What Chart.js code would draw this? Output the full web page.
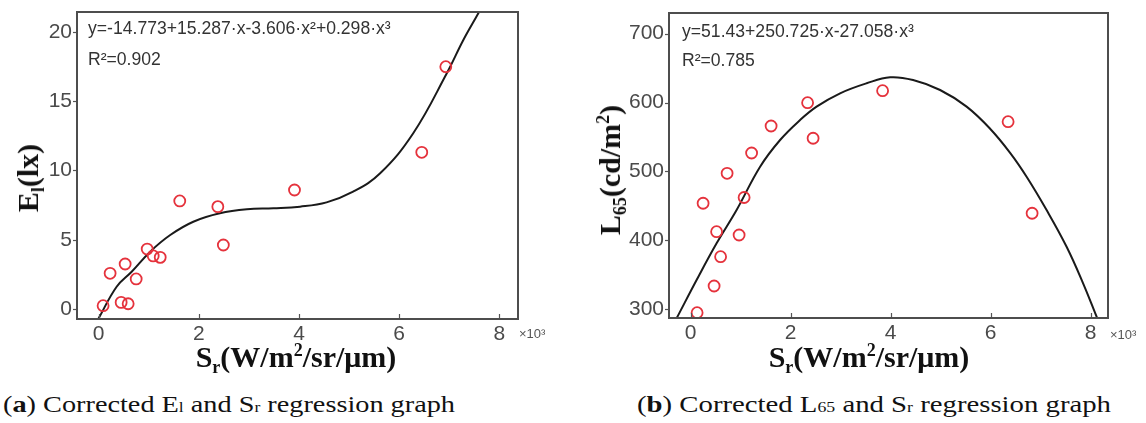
<!DOCTYPE html>
<html>
<head>
<meta charset="utf-8">
<script src="https://cdn.jsdelivr.net/npm/chart.js@4.4.1/dist/chart.umd.min.js"></script>
<style>
html,body{margin:0;padding:0;background:#fff;}
body{width:1146px;height:423px;overflow:hidden;position:relative;}
canvas{position:absolute;top:0;}
.t{position:absolute;white-space:nowrap;line-height:1;}
.eq{font-family:"Liberation Sans",Arial,sans-serif;font-size:17.6px;color:#333;transform:translateY(-50%);}
.axt{font-family:"Liberation Serif","Times New Roman",serif;font-weight:bold;font-size:30px;color:#111;transform:translate(-50%,-50%);}
.yt{transform:translate(-50%,-50%) rotate(-90deg);}
.sb{font-size:60%;position:relative;top:0.35em;}
.sp{font-size:60%;position:relative;top:-0.6em;}
.mul{font-family:"Liberation Sans",Arial,sans-serif;font-size:13px;color:#555;transform:translateY(-50%);}
.cap{font-family:"Liberation Serif","Times New Roman",serif;font-size:23px;color:#111;transform-origin:0 50%;}
.cs{font-size:62%;}
</style>
</head>
<body>
<canvas id="cl" width="560" height="345" style="left:0;width:560px;height:345px;"></canvas>
<canvas id="cr" width="566" height="345" style="left:580px;width:566px;height:345px;"></canvas>

<div class="t eq" style="left:88px;top:29px;">y=-14.773+15.287·x-3.606·x²+0.298·x³</div>
<div class="t eq" style="left:88px;top:60px;">R²=0.902</div>
<div class="t axt" style="left:296px;top:357px;">S<span class="sb">r</span>(W/m<span class="sp">2</span>/sr/μm)</div>
<div class="t axt yt" style="left:28px;top:178px;">E<span class="sb">l</span>(lx)</div>
<div class="t mul" style="left:519px;top:333px;">×10³</div>

<div class="t eq" style="left:682px;top:32px;">y=51.43+250.725·x-27.058·x³</div>
<div class="t eq" style="left:682px;top:61px;">R²=0.785</div>
<div class="t axt" style="left:869px;top:357px;">S<span class="sb">r</span>(W/m<span class="sp">2</span>/sr/μm)</div>
<div class="t axt yt" style="left:610px;top:170px;">L<span class="sb">65</span>(cd/m<span class="sp">2</span>)</div>
<div class="t mul" style="left:1110px;top:334px;">×10³</div>

<div class="t cap" id="capA" data-w="452" style="left:3px;top:393px;">(<b>a</b>) Corrected E<span class="cs">l</span> and S<span class="cs">r</span> regression graph</div>
<div class="t cap" id="capB" data-w="474" style="left:637px;top:393px;">(<b>b</b>) Corrected L<span class="cs">65</span> and S<span class="cs">r</span> regression graph</div>

<script>
// ---- values (x in ×10³ W/m²/sr/μm) ----
const xTicks = [0, 2, 4, 6, 8];
const leftYTicks = [0, 5, 10, 15, 20];
const rightYTicks = [300, 400, 500, 600, 700];

const leftSr = [0.09, 0.23, 0.45, 0.53, 0.59, 0.75, 0.97, 1.09, 1.23, 1.62, 2.38, 2.49, 3.91, 6.45, 6.93];
const leftEl = [0.24, 2.58, 0.48, 3.25, 0.38, 2.17, 4.33, 3.83, 3.73, 7.80, 7.39, 4.62, 8.59, 11.31, 17.49];
const leftFitSr = [-0.01, 0.36, 0.66, 1.03, 1.43, 1.89, 2.42, 2.96, 3.49, 4.02, 4.55, 5.08, 5.62, 6.28, 6.95, 7.28, 7.59, 7.70];
const leftFitEl = [-0.74, 1.61, 2.69, 4.14, 5.34, 6.30, 6.91, 7.20, 7.27, 7.39, 7.70, 8.47, 9.80, 12.69, 17.02, 19.42, 21.42, 22.2];

const rightSr = [2.34, 2.45, 1.61, 1.22, 0.73, 1.07, 0.25, 3.84, 0.52, 0.97, 0.60, 0.47, 0.13, 6.35, 6.83];
const rightL65 = [599.8, 548.1, 565.9, 526.7, 497.2, 462.1, 453.7, 617.2, 412.4, 407.6, 376.1, 333.6, 294.8, 572.2, 439.2];
const rightFitSr = [-0.33, -0.28, 0.12, 0.52, 0.92, 1.39, 1.79, 2.19, 2.52, 2.99, 3.52, 3.99, 4.45, 4.99, 5.52, 5.99, 6.39, 6.72, 7.12, 7.52, 7.85, 8.12, 8.17];
const rightFitL65 = [280, 286.7, 342.3, 395.6, 443.9, 506.8, 545.6, 574.6, 594.0, 613.4, 627.9, 636.7, 632.7, 618.2, 594.0, 562.0, 527.0, 492.3, 443.9, 390.6, 337.5, 289.0, 280];

const zip = (xs, ys) => xs.map((x, i) => ({x: x, y: ys[i]}));

const boxPlugin = {
  id: 'boxTicks',
  afterDatasetsDraw(chart) {
    const {ctx, chartArea: a, scales: {x, y}} = chart;
    ctx.save();
    ctx.strokeStyle = '#555';
    ctx.lineWidth = 1.2;
    x.ticks.forEach(t => {
      const px = Math.round(x.getPixelForValue(t.value)) + 0.5;
      ctx.beginPath(); ctx.moveTo(px, a.bottom); ctx.lineTo(px, a.bottom - 5); ctx.stroke();
    });
    y.ticks.forEach(t => {
      const py = Math.round(y.getPixelForValue(t.value)) + 0.5;
      ctx.beginPath(); ctx.moveTo(a.left - 4, py); ctx.lineTo(a.left, py); ctx.stroke();
    });
    ctx.lineWidth = 2;
    ctx.strokeStyle = '#4d4d4d';
    ctx.strokeRect(a.left, a.top, a.right - a.left, a.bottom - a.top);
    ctx.restore();
  }
};

function makeChart(id, o) {
  const tickFont = {family: '"Liberation Sans", Arial, sans-serif', size: 21};
  new Chart(document.getElementById(id), {
    type: 'scatter',
    data: {
      datasets: [
        {
          data: zip(o.px, o.py),
          showLine: false,
          pointStyle: 'circle',
          pointRadius: 5.5,
          pointBorderWidth: 1.8,
          pointBorderColor: '#e5323c',
          pointBackgroundColor: 'rgba(255,255,255,0)'
        },
        {
          data: zip(o.fx, o.fy),
          showLine: true,
          borderColor: '#1a1a1a',
          borderWidth: 2,
          pointRadius: 0,
          tension: 0.4,
          clip: 0
        }
      ]
    },
    options: {
      responsive: false,
      animation: false,
      devicePixelRatio: 1,
      layout: {padding: {top: o.top, right: o.padRight, left: 0, bottom: 0}},
      plugins: {legend: {display: false}, tooltip: {enabled: false}},
      scales: {
        x: {
          type: 'linear', min: o.xmin, max: o.xmax,
          grid: {display: false, drawTicks: false}, border: {display: false},
          afterBuildTicks: s => { s.ticks = xTicks.map(v => ({value: v})); },
          afterFit: s => { s.height = o.xH; s.paddingLeft = 0; s.paddingRight = 0; s.paddingTop = 0; s.paddingBottom = 0; },
          ticks: {font: tickFont, color: '#4a4a4a', padding: 3, maxRotation: 0, autoSkip: false}
        },
        y: {
          type: 'linear', min: o.ymin, max: o.ymax,
          grid: {display: false, drawTicks: false}, border: {display: false},
          afterBuildTicks: s => { s.ticks = o.yTicks.map(v => ({value: v})); },
          afterFit: s => { s.width = o.yW; s.paddingLeft = 0; s.paddingRight = 0; s.paddingTop = 0; s.paddingBottom = 0; },
          ticks: {font: tickFont, color: '#4a4a4a', padding: 5, autoSkip: false}
        }
      }
    },
    plugins: [boxPlugin]
  });
}

makeChart('cl', {
  px: leftSr, py: leftEl, fx: leftFitSr, fy: leftFitEl, yTicks: leftYTicks,
  xmin: -0.431, xmax: 8.371, ymin: -0.72, ymax: 21.44,
  top: 12, padRight: 42, yW: 77, xH: 26
});
makeChart('cr', {
  px: rightSr, py: rightL65, fx: rightFitSr, fy: rightFitL65, yTicks: rightYTicks,
  xmin: -0.432, xmax: 8.348, ymin: 287.1, ymax: 730,
  top: 13, padRight: 38, yW: 89, xH: 27
});

// stretch captions to the measured widths of the reference
['capA', 'capB'].forEach(id => {
  const el = document.getElementById(id);
  const w = el.getBoundingClientRect().width;
  const target = parseFloat(el.dataset.w);
  el.style.transform = 'scaleX(' + (target / w).toFixed(4) + ')';
});
</script>
</body>
</html>
